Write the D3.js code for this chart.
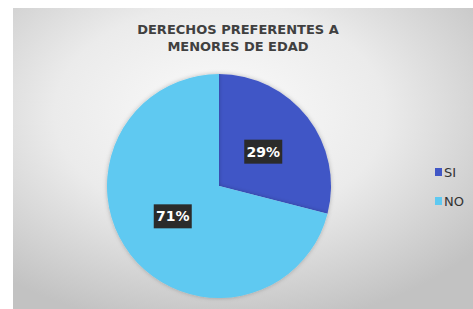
<!DOCTYPE html>
<html>
<head>
<meta charset="utf-8">
<script src="https://cdnjs.cloudflare.com/ajax/libs/d3/7.8.5/d3.min.js"></script>
<style>
  body { margin:0; background:#fff; }
  text { font-family: "DejaVu Sans", sans-serif; }
</style>
</head>
<body>
<div id="chart"></div>
<script>
var titleLines = ["DERECHOS PREFERENTES A", "MENORES DE EDAD"];
var categories = ["SI", "NO"];
var values = [29, 71];
var colors = ["#4157c6", "#5ec9f1"];

var width = 473, height = 309;
var cx = 219, cy = 186, radius = 112;

var svg = d3.select("#chart").append("svg")
	.attr("width", width)
	.attr("height", height);

var defs = svg.append("defs");
var grad = defs.append("radialGradient").attr("id", "bg")
	.attr("cx", "45%").attr("cy", "35%").attr("r", "72%");
grad.append("stop").attr("offset", "0%").attr("stop-color", "#fbfbfb");
grad.append("stop").attr("offset", "50%").attr("stop-color", "#ebebeb");
grad.append("stop").attr("offset", "100%").attr("stop-color", "#c2c2c2");

var shadow = defs.append("filter").attr("id", "sh")
	.attr("x", "-20%").attr("y", "-20%").attr("width", "140%").attr("height", "140%");
shadow.append("feDropShadow").attr("dx", 0).attr("dy", 0).attr("stdDeviation", 2)
	.attr("flood-color", "#000").attr("flood-opacity", 0.25);

svg.append("rect").attr("x", 13).attr("y", 8)
	.attr("width", width - 13).attr("height", height - 8)
	.attr("fill", "url(#bg)");

svg.append("text").selectAll("tspan").data(titleLines).enter().append("tspan")
	.attr("x", 238).attr("y", function(d, i) { return 34 + i * 17; })
	.attr("text-anchor", "middle")
	.attr("font-size", "13px").attr("font-weight", "bold").attr("fill", "#404040")
	.text(function(d) { return d; });

var pie = d3.pie().sort(null).value(function(d) { return d; });
var arc = d3.arc().innerRadius(0).outerRadius(radius);
var labelArc = d3.arc().innerRadius(radius * 0.5).outerRadius(radius * 0.5);

var g = svg.append("g").attr("transform", "translate(" + cx + "," + cy + ")");
var arcs = pie(values);

g.selectAll("path").data(arcs).enter().append("path")
	.attr("d", arc)
	.attr("fill", function(d, i) { return colors[i]; })
	.attr("filter", "url(#sh)");

var labels = g.selectAll("g.lbl").data(arcs).enter().append("g")
	.attr("class", "lbl")
	.attr("transform", function(d, i) {
		var c = labelArc.centroid(d);
		if (i == 1) c = [c[0] - 2, c[1] - 4];
		return "translate(" + c + ")";
	});
labels.append("rect").attr("x", -19).attr("y", -12).attr("width", 38).attr("height", 24)
	.attr("fill", "#2b2b2b");
labels.append("text").attr("text-anchor", "middle").attr("dy", "0.36em")
	.attr("font-size", "14px").attr("font-weight", "bold").attr("fill", "#fff")
	.text(function(d) { return d.data + "%"; });

var legend = svg.append("g").selectAll("g").data(categories).enter().append("g")
	.attr("transform", function(d, i) { return "translate(435," + (172 + i * 29) + ")"; });
legend.append("rect").attr("x", 0).attr("y", -4).attr("width", 7).attr("height", 8)
	.attr("fill", function(d, i) { return colors[i]; });
legend.append("text").attr("x", 9).attr("dy", "0.36em")
	.attr("font-size", "13px").attr("fill", "#333")
	.text(function(d) { return d; });
</script>
</body>
</html>
